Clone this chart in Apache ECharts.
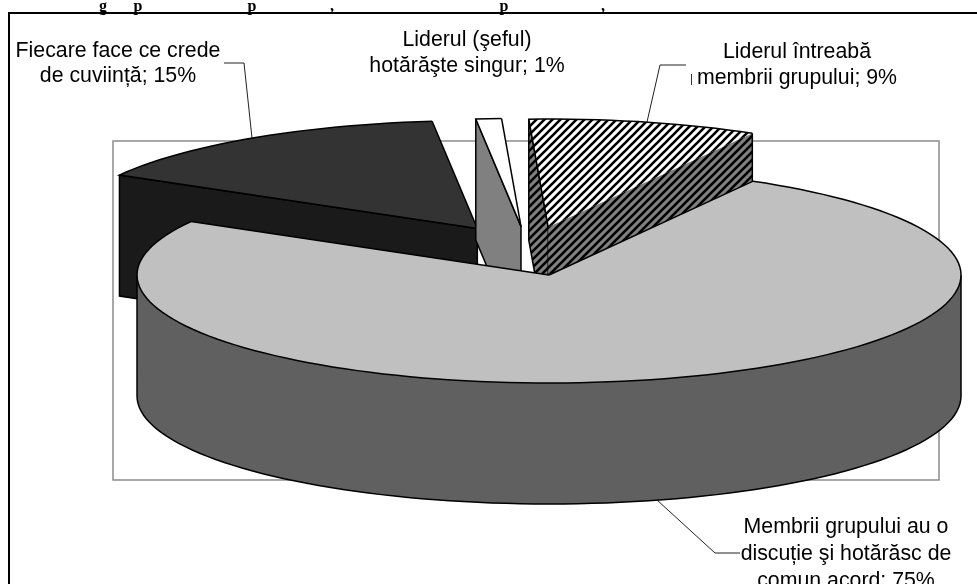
<!DOCTYPE html>
<html>
<head>
<meta charset="utf-8">
<style>
  html, body { margin: 0; padding: 0; background: #fff; overflow: hidden; }
  #chart { width: 977px; height: 584px; }
</style>
<script src="https://cdn.jsdelivr.net/npm/echarts@6/dist/echarts.min.js"></script>
</head>
<body>
<div id="chart"></div>
<script>
// clockwise from the top-left slice, main slice last so it paints on top
const categories = [
  'Fiecare face ce crede\nde cuviință',
  'Liderul (şeful)\nhotărăşte singur',
  'Liderul întreabă\nmembrii grupului',
  'Membrii grupului au o\ndiscuție şi hotărăsc de\ncomun acord'
];
const values = [15, 1, 9, 75];
const titleGlyphs = ['g', 'p', 'p', ',', 'p', ','];

// layout, not data
const titleX = [103, 138, 252, 332, 504, 603];
const labelPos = [[118, 39, 25], [467, 27, 26], [797, 39, 26], [846, 514, 27]];
const leaders = [
  [[224, 63], [244, 63], [252, 138]],
  [[686, 65], [660, 65], [647, 122]],
  [[657, 500], [715, 553], [740, 553]]
];
const topColors = ['#333333', '#ffffff', 'hatchTop', '#c0c0c0'];
const sideColors = ['#1a1a1a', '#808080', 'hatchSide', '#606060'];
// how far each slice was pulled out of the pie, in radius units
const offsets = [[-0.174, 0.43], [-0.068, 0.45], [-0.002, 0.444], [0, 0]];

const startAngle = -60.3;
const depth = 1.12;

function hatch(bg) {
  const c = document.createElement('canvas');
  c.width = c.height = 8;
  const g = c.getContext('2d');
  g.fillStyle = bg;
  g.fillRect(0, 0, 8, 8);
  g.strokeStyle = '#000';
  g.lineWidth = 2.6;
  [[-4, 4, 4, -4], [0, 8, 8, 0], [4, 12, 12, 4]].forEach(function (l) {
    g.beginPath();
    g.moveTo(l[0], l[1]);
    g.lineTo(l[2], l[3]);
    g.stroke();
  });
  return { image: c, repeat: 'repeat' };
}
const patterns = { hatchTop: hatch('#ffffff'), hatchSide: hatch('#808080') };
function paint(c) { return patterns[c] || c; }

const chart = echarts.init(document.getElementById('chart'), null, { renderer: 'canvas' });

function rad(d) { return d * Math.PI / 180; }

function renderSlice(params, api) {
  const i = api.value(0);
  let before = 0;
  for (let k = 0; k < i; k++) before += values[k];
  const a1 = startAngle + before * 3.6;
  const a2 = a1 + api.value(1) * 3.6;
  const off = offsets[i];

  const top = function (a) { return api.coord([off[0] + Math.sin(rad(a)), off[1] + Math.cos(rad(a))]); };
  const low = function (a) { return api.coord([off[0] + Math.sin(rad(a)), off[1] + Math.cos(rad(a)) - depth]); };
  const apexTop = api.coord([off[0], off[1]]);
  const apexLow = api.coord([off[0], off[1] - depth]);

  const children = [];
  const fillOnly = function (pts, fill) {
    children.push({ type: 'polygon', shape: { points: pts }, style: { fill: paint(fill), stroke: null } });
  };
  const line = function (pts) {
    children.push({ type: 'polyline', shape: { points: pts }, style: { fill: null, stroke: '#000', lineWidth: 1.5 } });
  };
  const arc = function (from, to, fn) {
    const pts = [];
    const n = Math.max(2, Math.ceil(Math.abs(to - from) / 2));
    for (let k = 0; k <= n; k++) pts.push(fn(from + (to - from) * k / n));
    return pts;
  };

  // radial faces that turn towards the viewer
  if (Math.sin(rad(a1)) < 0) {
    const q = [top(a1), apexTop, apexLow, low(a1)];
    fillOnly(q, sideColors[i]);
    line(q.concat([q[0]]));
  }
  if (Math.sin(rad(a2)) > 0) {
    fillOnly([apexTop, top(a2), low(a2), apexLow], sideColors[i]);
    line([top(a2), low(a2), apexLow]);
  }
  // outer wall, only the front half of the circle shows
  const w1 = Math.max(a1, 90), w2 = Math.min(a2, 270);
  if (w2 > w1) {
    const upper = arc(w1, w2, top);
    const lower = arc(w2, w1, low);
    fillOnly(upper.concat(lower), sideColors[i]);
    line(lower.concat([upper[0]]));
    line([upper[upper.length - 1], lower[0]]);
  }
  // top face, the hatched one has no line on its inner right edge
  const rim = arc(a1, a2, top);
  fillOnly([apexTop].concat(rim), topColors[i]);
  line([apexTop].concat(rim));
  if (topColors[i] !== 'hatchTop') line([rim[rim.length - 1], apexTop]);

  return { type: 'group', children: children };
}

const labelGraphics = categories.map(function (name, i) {
  const p = labelPos[i];
  return {
    type: 'text',
    z: 20,
    style: {
      text: name + '; ' + values[i] + '%',
      x: p[0],
      y: p[1],
      align: 'center',
      verticalAlign: 'top',
      lineHeight: p[2],
      font: '21.3px "Liberation Sans", Arial, sans-serif',
      fill: '#000'
    }
  };
});

const leaderGraphics = leaders.map(function (pts) {
  return {
    type: 'polyline',
    z: 1,
    shape: { points: pts },
    style: { fill: null, stroke: '#222', lineWidth: 1 }
  };
});

const titleGraphics = titleGlyphs.map(function (g, i) {
  return {
    type: 'text',
    style: {
      text: g,
      x: titleX[i],
      y: -1,
      align: 'center',
      verticalAlign: 'alphabetic',
      font: 'bold 16px "Liberation Serif", "Times New Roman", serif',
      fill: '#000'
    }
  };
});

const option = {
  animation: false,
  backgroundColor: '#fff',
  // the grid border is the grey plot area behind the pie
  grid: {
    show: true,
    left: 113,
    top: 141,
    width: 826,
    height: 339,
    borderColor: '#8c8c8c',
    borderWidth: 1.5,
    backgroundColor: 'transparent'
  },
  xAxis: { type: 'value', min: -1.0583, max: 0.9466, show: false },
  yAxis: { type: 'value', min: -1.8981, max: 1.2407, show: false },
  graphic: [
    {
      type: 'rect',
      shape: { x: 9, y: 13, width: 1100, height: 700 },
      style: { fill: null, stroke: '#000', lineWidth: 2 }
    },
    {
      type: 'line',
      shape: { x1: 691.5, y1: 74, x2: 691.5, y2: 85 },
      style: { stroke: '#333', lineWidth: 1 }
    }
  ].concat(titleGraphics, leaderGraphics, labelGraphics),
  series: [{
    type: 'custom',
    clip: false,
    silent: true,
    renderItem: renderSlice,
    data: values.map(function (v, i) { return [i, v]; })
  }]
};

chart.setOption(option);
window.addEventListener('resize', function () { chart.resize(); });
</script>
</body>
</html>
